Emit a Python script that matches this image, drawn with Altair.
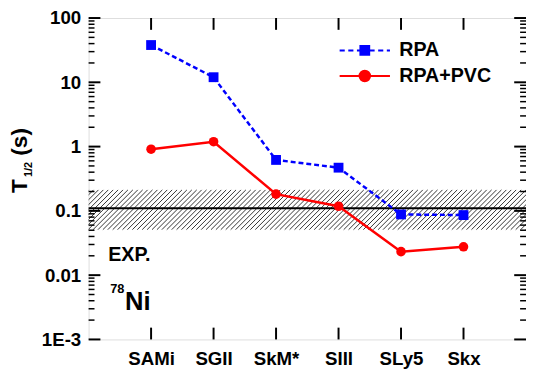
import json
import altair as alt
import numpy as np
import pandas as pd

# ---------------- data ----------------
models = ["SAMi", "SGII", "SkM*", "SIII", "SLy5", "Skx"]
rpa = [38.0, 12.0, 0.62, 0.47, 0.088, 0.086]
rpa_pvc = [0.91, 1.19, 0.182, 0.118, 0.0232, 0.0276]
series_names = ["RPA", "RPA+PVC"]
exp_value = 0.11
exp_low = 0.051
exp_high = 0.212
y_decades = [0.001, 0.01, 0.1, 1, 10, 100]
y_decade_labels = ["1E-3", "0.01", "0.1", "1", "10", "100"]
title_parts = ["T", "1/2", "(s)"]
note_exp = ["EXP."]
note_mass = ["78"]
note_elem = ["Ni"]

# ---------------- layout / style ----------------
W, H = 445, 327
X_DOMAIN = [0, 7]
Y_DOMAIN = [0.001, 100]
FONT = "Liberation Sans"
BLUE = "#0000ff"
RED = "#ff0000"
MAJOR, MINOR = 12, 6

pos = list(range(1, len(models) + 1))
df = pd.DataFrame({
    "pos": pos * 2,
    "model": models * 2,
    "series": [series_names[0]] * len(models) + [series_names[1]] * len(models),
    "value": rpa + rpa_pvc,
})
df_rpa = pd.DataFrame({"pos": pos, "value": rpa})
df_pvc = pd.DataFrame({"pos": pos, "value": rpa_pvc})

# y tick values: decades (major) and 2..9 x 10^k (minor)
y_minor = [m * 10.0 ** k for k in range(-3, 2) for m in range(2, 10)]
y_all_ticks = sorted(y_decades + y_minor)

LOG = "(log(datum.value)/LN10)"
IS_DEC = f"abs({LOG} - round({LOG})) < 1e-6"
y_label_expr = f"{IS_DEC} ? {json.dumps(y_decade_labels)}[round({LOG}) + 3] : ''"
x_label_expr = f"{json.dumps(models)}[round(datum.value) - 1]"

xs = alt.Scale(domain=X_DOMAIN, nice=False, zero=False)
ys = alt.Scale(type="log", domain=Y_DOMAIN, nice=False)

# label-only axes (left / bottom)
x_axis = alt.Axis(orient="bottom", values=pos, labelExpr=x_label_expr, title=None, grid=False,
                  ticks=False, domain=False, labelFont=FONT,
                  labelFontWeight="bold", labelFontSize=19, labelColor="black",
                  labelPadding=10, labelOverlap=False)
y_axis = alt.Axis(orient="left", values=y_all_ticks, labelExpr=y_label_expr, title=None, grid=False,
                  ticks=False, domain=False, labelFont=FONT,
                  labelFontWeight="bold", labelFontSize=19, labelColor="black",
                  labelPadding=8, labelOverlap=False)

XN = alt.X("pos:Q", scale=xs, axis=None)
YN = alt.Y("value:Q", scale=ys, axis=None)

# ---------------- inward ticks on all four sides (placed through the scales) ----------------
df_ymaj = pd.DataFrame({"value": y_decades})
df_ymin = pd.DataFrame({"value": y_minor})
df_xt = pd.DataFrame({"pos": pos})


def ytick(data, x0, x1, width):
    return alt.Chart(data).mark_rule(color="black", strokeWidth=width).encode(
        y=YN, x=alt.value(x0), x2=alt.value(x1))


def xtick(y0, y1):
    return alt.Chart(df_xt).mark_rule(color="black", strokeWidth=2).encode(
        x=XN, y=alt.value(y0), y2=alt.value(y1))


tick_layers = [
    ytick(df_ymaj, 0, MAJOR, 2), ytick(df_ymin, 0, MINOR, 1.5),
    ytick(df_ymaj, W, W - MAJOR, 2), ytick(df_ymin, W, W - MINOR, 1.5),
    xtick(H, H - MAJOR), xtick(0, MAJOR),
]

# ---------------- hatched experimental band ----------------
unit_px = W / (X_DOMAIN[1] - X_DOMAIN[0])
band_px = (np.log10(exp_high) - np.log10(exp_low)) / (np.log10(Y_DOMAIN[1]) - np.log10(Y_DOMAIN[0])) * H
dx = band_px / unit_px
step = 5.0 / unit_px
x0s = np.arange(X_DOMAIN[0] - dx, X_DOMAIN[1] + step, step)
hatch_df = pd.DataFrame({"xa": x0s, "xb": x0s + dx, "ya": exp_low, "yb": exp_high})

hatch = alt.Chart(hatch_df).mark_rule(clip=True, color="#333333", strokeWidth=1).encode(
    x=alt.X("xa:Q", scale=xs, axis=None), x2="xb:Q",
    y=alt.Y("ya:Q", scale=ys, axis=None), y2="yb:Q",
)
exp_line = alt.Chart(pd.DataFrame({"value": [exp_value]})).mark_rule(
    color="black", strokeWidth=2).encode(y=YN)

# ---------------- series ----------------
line_rpa = alt.Chart(df_rpa).mark_line(color=BLUE, strokeWidth=2.5, strokeDash=[5, 3]).encode(
    x=alt.X("pos:Q", scale=xs, axis=x_axis), y=alt.Y("value:Q", scale=ys, axis=y_axis))
line_pvc = alt.Chart(df_pvc).mark_line(color=RED, strokeWidth=2.5).encode(x=XN, y=YN)
pts_rpa = alt.Chart(df_rpa).mark_point(shape="square", filled=True, size=100, color=BLUE,
                                       opacity=1).encode(x=XN, y=YN)
pts_pvc = alt.Chart(df_pvc).mark_point(shape="circle", filled=True, size=95, color=RED,
                                       opacity=1).encode(x=XN, y=YN)


# ---------------- legend (custom symbol paths) ----------------
def dashed(a, b, on=0.65, off=0.45):
    segs, s = [], a
    while s < b:
        e = min(s + on, b)
        segs.append(f"M{s:.3f},0H{e:.3f}")
        s = e + off
    return "".join(segs)


sq = 0.56
path_rpa = dashed(-3.2, -0.6) + dashed(0.6, 3.2) + f"M{-sq},{-sq}H{sq}V{sq}H{-sq}Z"
r = 0.67
path_pvc = f"M-3.2,0H3.2M{r},0A{r},{r} 0 1,1 {-r},0A{r},{r} 0 1,1 {r},0Z"

leg = alt.Legend(orient="none", legendX=271, legendY=23, title=None, labelFont=FONT,
                 labelFontSize=20, labelFontWeight="bold", labelColor="black",
                 symbolSize=256, symbolStrokeWidth=2, labelOffset=25, rowPadding=6,
                 padding=0)
legend_layer = alt.Chart(df).mark_point(size=0, filled=True, opacity=1, strokeWidth=2).encode(
    x=XN, y=YN,
    fill=alt.Fill("series:N", scale=alt.Scale(domain=series_names, range=[BLUE, RED]), legend=leg),
    stroke=alt.Stroke("series:N", scale=alt.Scale(domain=series_names, range=[BLUE, RED]), legend=leg),
    shape=alt.Shape("series:N", scale=alt.Scale(domain=series_names, range=[path_rpa, path_pvc]), legend=leg),
)


# ---------------- annotations ----------------
def txt(label, x, y, size, angle=0, align="left"):
    return alt.Chart(pd.DataFrame({"t": [label]})).mark_text(
        font=FONT, fontWeight="bold", fontSize=size, color="black", align=align,
        baseline="alphabetic", angle=angle).encode(
        text="t:N", x=alt.value(x), y=alt.value(y))


annots = [
    txt(title_parts[0], -63, 171, 23, angle=270, align="center"),
    txt(title_parts[1], -58, 154, 11, angle=270, align="center"),
    txt(title_parts[2], -63, 126, 23, angle=270, align="center"),
    txt(note_exp[0], 20, 247, 20),
    txt(note_mass[0], 22, 280, 13),
    txt(note_elem[0], 37, 297, 26),
]

chart = alt.layer(
    hatch, exp_line, *tick_layers, line_rpa, line_pvc, pts_rpa, pts_pvc, legend_layer, *annots
).resolve_scale(x="independent", y="independent").properties(
    width=W, height=H,
    autosize=alt.AutoSizeParams(type="none"),
    padding={"left": 82, "top": 7, "right": 0, "bottom": 34},
).configure_view(stroke="black", strokeWidth=2).configure(background="white")

chart.save("out.html", embed_options={"renderer": "svg", "actions": False})
